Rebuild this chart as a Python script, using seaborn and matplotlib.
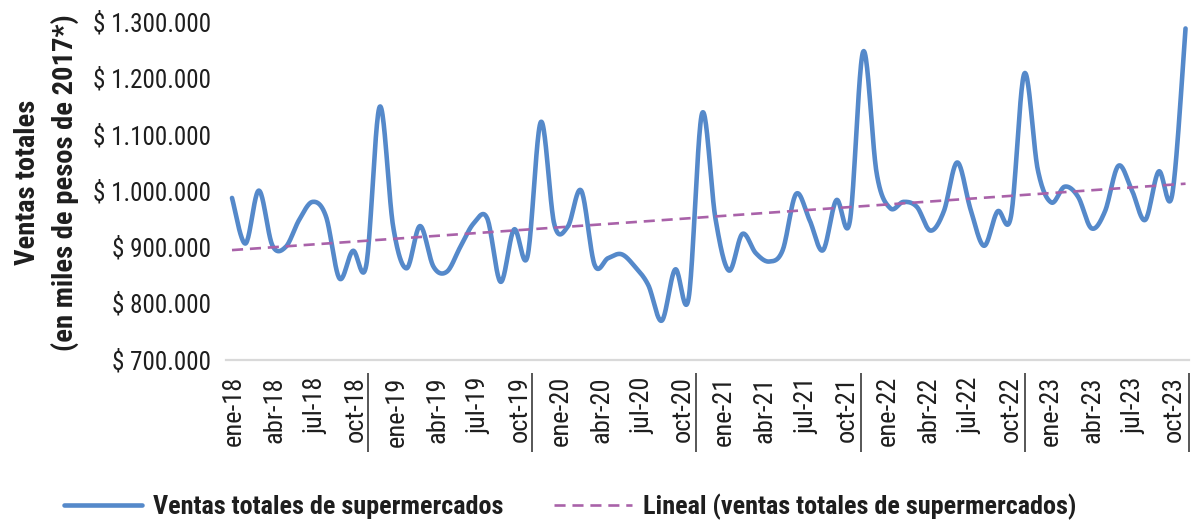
import numpy as np
import pandas as pd
import matplotlib
matplotlib.use("Agg")
import matplotlib.pyplot as plt
import matplotlib.font_manager as fm
import matplotlib.transforms as mtransforms
from matplotlib.ticker import FuncFormatter, FixedLocator
import seaborn as sns

# ---------------- data ----------------
meses = ["ene", "feb", "mar", "abr", "may", "jun", "jul", "ago", "sep", "oct", "nov", "dic"]
anios = ["18", "19", "20", "21", "22", "23"]
periodos = [f"{m}-{a}" for a in anios for m in meses]

# ventas totales de supermercados (miles de pesos de 2017), in thousands
ventas_k = [
    987, 906, 1000, 903, 900, 948, 980, 954, 844, 893, 868, 1149,
    936, 862, 937, 865, 856, 900, 942, 951, 838, 931, 883, 1122,
    940, 936, 1000, 868, 880, 887, 865, 832, 769, 860, 809, 1137,
    950, 858, 923, 889, 874, 894, 994, 948, 894, 983, 945, 1247,
    1031, 969, 980, 971, 929, 963, 1050, 966, 902, 963, 954, 1208,
    1037, 979, 1007, 989, 933, 963, 1044, 1001, 948, 1034, 992, 1288,
]
ventas = [v * 1000 for v in ventas_k]
tick_labels = periodos[::3]

serie_label = "Ventas totales de supermercados"
tend_label = "Lineal (ventas totales de supermercados)"
ylabel = "Ventas totales\n(en miles de pesos de 2017*)"

# ---------------- fonts ----------------
sns.set_theme(style="white")
names = {f.name for f in fm.fontManager.ttflist}
family, stretch, ratio = "DejaVu Sans", "normal", 1.33
for cand, r in [("Roboto Condensed", 1.0), ("Liberation Sans Narrow", 0.96),
                ("Open Sans Condensed", 1.0), ("Noto Sans Condensed", 1.0)]:
    if cand in names:
        family, ratio = cand, r
        break
else:
    if any(f.name == "DejaVu Sans" and str(f.stretch) in ("condensed", "semi-condensed")
           for f in fm.fontManager.ttflist):
        family, stretch, ratio = "DejaVu Sans", "condensed", 1.2
plt.rcParams["font.family"] = [family, "DejaVu Sans"]
plt.rcParams["font.stretch"] = stretch

fs_ytick = 18.1 / ratio
fs_xtick = 19.0 / ratio
fs_leg = 18.9 / ratio
fs_ylab = 20.5 / ratio
txt_color = "#1e1e1e"

BLUE = "#5589CA"
PURPLE = "#A962A9"

# ---------------- smoothing (Excel-like smoothed line) ----------------
def smooth_curve(y, n=24):
    y = np.asarray(y, float)
    x = np.arange(len(y), dtype=float)
    P = np.column_stack([x, y])
    Pe = np.vstack([P[0], P, P[-1]])
    t = np.linspace(0, 1, n, endpoint=False)[:, None]
    out = []
    for i in range(len(P) - 1):
        p0, p1, p2, p3 = Pe[i], Pe[i + 1], Pe[i + 2], Pe[i + 3]
        c1 = p1 + (p2 - p0) / 6.0
        c2 = p2 - (p3 - p1) / 6.0
        seg = (1 - t) ** 3 * p1 + 3 * (1 - t) ** 2 * t * c1 + 3 * (1 - t) * t ** 2 * c2 + t ** 3 * p2
        out.append(seg)
    out.append(P[-1:])
    return np.vstack(out)

idx = np.arange(len(ventas))
sm = smooth_curve(ventas)
df_sm = pd.DataFrame({"x": sm[:, 0], "y": sm[:, 1]})

coef = np.polyfit(idx, ventas, 1)
df_tr = pd.DataFrame({"x": [idx[0], idx[-1]], "y": np.polyval(coef, [idx[0], idx[-1]])})

# ---------------- figure ----------------
fig = plt.figure(figsize=(11.92, 5.24), dpi=100)
ax = fig.add_axes([0.1896, 0.3139, 0.8079, 0.6447])

sns.lineplot(data=df_sm, x="x", y="y", ax=ax, color=BLUE, lw=3.3,
             estimator=None, sort=False, label=serie_label)
sns.lineplot(data=df_tr, x="x", y="y", ax=ax, color=PURPLE, lw=1.9,
             estimator=None, sort=False, label=tend_label)
ax.lines[0].set_solid_capstyle("round")
ax.lines[1].set_dashes((4.2, 2.6))

ax.set_ylim(700000, 1300000)
ax.set_xlim(-0.447, 71.26)
ax.yaxis.set_major_locator(FixedLocator(np.arange(700000, 1300001, 100000)))
ax.yaxis.set_major_formatter(FuncFormatter(lambda v, p: "$ " + f"{int(round(v)):,}".replace(",", ".")))

# category labels every 3 months
label_pos = [0.1 + 3.045 * k for k in range(len(tick_labels))]
ax.set_xticks(label_pos)
ax.set_xticklabels(tick_labels, rotation=90)
ax.tick_params(axis="x", length=0, pad=12, labelsize=fs_xtick, labelcolor=txt_color)
ax.tick_params(axis="y", length=0, pad=10.5, labelsize=fs_ytick, labelcolor=txt_color)

ax.set_xlabel("")
ax.set_ylabel(ylabel, fontsize=fs_ylab, fontweight="bold", color=txt_color, linespacing=1.45)
ax.yaxis.label.set_va("center")
ax.yaxis.set_label_coords(-0.186, 0.524)

for s in ["left", "top", "right"]:
    ax.spines[s].set_visible(False)
ax.spines["bottom"].set_color("#d9d9d9")
ax.spines["bottom"].set_linewidth(1.6)
ax.grid(False)

# year separators below the axis
trans = mtransforms.blended_transform_factory(ax.transData, ax.transAxes)
sep_pos = [10.13 + 12.226 * k for k in range(6)]
ax.vlines(sep_pos, -0.04, -0.274, transform=trans, clip_on=False, color="#3a3a3a", lw=1.2)

# legend
h, l = ax.get_legend_handles_labels()
ax.get_legend().remove()
leg = fig.legend(h, l, loc="center", bbox_to_anchor=(570 / 1192, 1 - 507 / 524), ncol=2,
                 frameon=False, handlelength=2.95, handletextpad=0.42, columnspacing=1.95,
                 prop={"size": fs_leg, "weight": "bold"})
for t in leg.get_texts():
    t.set_color(txt_color)

fig.savefig("out.png", dpi=100)
